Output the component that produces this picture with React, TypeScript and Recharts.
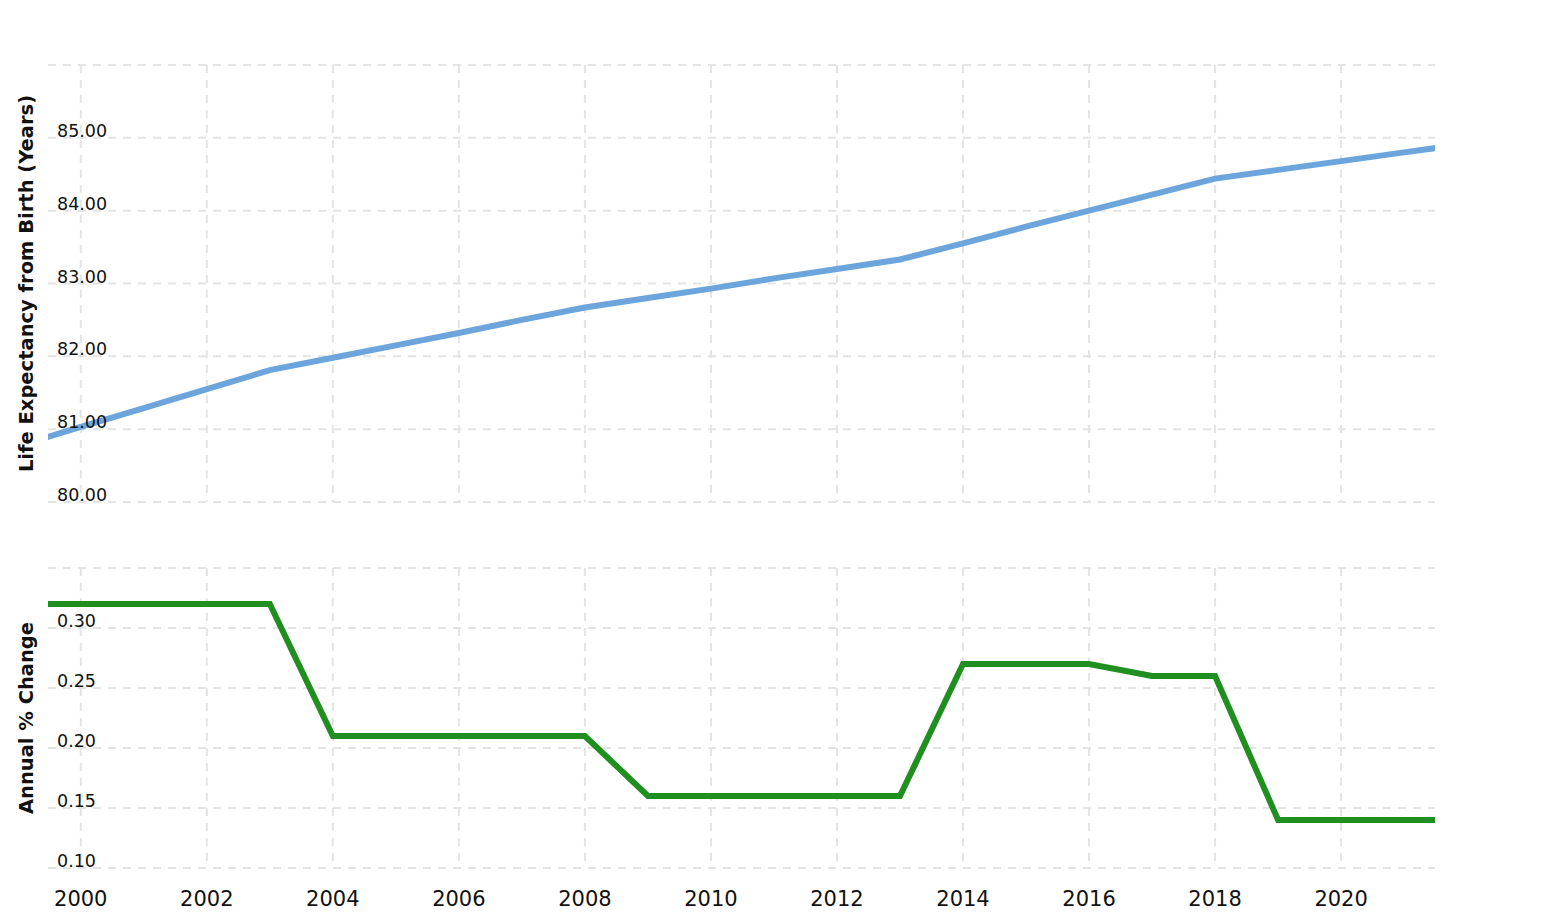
import React from 'react';
import { LineChart, Line, XAxis, YAxis, CartesianGrid } from 'recharts';

const years = [1999, 2000, 2001, 2002, 2003, 2004, 2005, 2006, 2007, 2008, 2009, 2010, 2011, 2012, 2013, 2014, 2015, 2016, 2017, 2018, 2019, 2020, 2021, 2022];
const lifeExpectancy = [80.77, 81.03, 81.29, 81.55, 81.81, 81.98, 82.15, 82.32, 82.5, 82.67, 82.8, 82.93, 83.07, 83.2, 83.33, 83.55, 83.78, 84.0, 84.22, 84.44, 84.56, 84.68, 84.8, 84.92];
const annualChange = [0.32, 0.32, 0.32, 0.32, 0.32, 0.21, 0.21, 0.21, 0.21, 0.21, 0.16, 0.16, 0.16, 0.16, 0.16, 0.27, 0.27, 0.27, 0.26, 0.26, 0.14, 0.14, 0.14, 0.14];

const yearTicks = [2000, 2002, 2004, 2006, 2008, 2010, 2012, 2014, 2016, 2018, 2020];
const lifeTicks = [80, 81, 82, 83, 84, 85, 86];
const changeTicks = [0.1, 0.15, 0.2, 0.25, 0.3, 0.35];

const xDomain = [1999.48, 2021.49];

const data = years.map((year, i) => ({
  year,
  life: lifeExpectancy[i],
  change: annualChange[i],
}));

const FONT = '"DejaVu Sans", Verdana, sans-serif';

// tick labels sit inside the plot, on top of their gridline; top tick has no label
const makeTick = (top: number) => (props: any) => {
  const { y, payload } = props;
  if (payload.value >= top) return null;
  return (
    <text x={57} y={y - 1} fill="#111" fontSize={17.5} fontFamily={FONT} textAnchor="start">
      {Number(payload.value).toFixed(2)}
    </text>
  );
};

const makeTitle = (title: string) => (props: any) => {
  const vb = props.viewBox || {};
  const cy = (vb.y || 0) + (vb.height || 0) / 2;
  return (
    <text
      x={33}
      y={cy}
      transform={`rotate(-90, 33, ${cy})`}
      textAnchor="middle"
      fill="#111"
      fontSize={19.5}
      fontWeight="bold"
      fontFamily={FONT}
    >
      {title}
    </text>
  );
};

// vertical gridlines only at the year ticks (no lines on the plot edges)
const yearLines = ({ xAxis, offset }: any) => {
  const s = xAxis && xAxis.scale;
  if (typeof s === 'function') return yearTicks.map((t) => s(t));
  if (s && typeof s.map === 'function') return yearTicks.map((t) => s.map(t));
  const [d0, d1] = xDomain;
  return yearTicks.map((t) => offset.left + ((t - d0) / (d1 - d0)) * offset.width);
};

export default function App() {
  return (
    <div style={{ position: 'absolute', left: 0, top: 0, width: 1564, height: 924, background: '#fff' }}>
      <div style={{ position: 'absolute', left: 0, top: 0 }}>
        <LineChart width={1564} height={520} data={data} margin={{ top: 65, right: 129, bottom: 18, left: 0 }}>
          <CartesianGrid stroke="#e4e4e4" strokeWidth={2} strokeDasharray="8 7" verticalCoordinatesGenerator={yearLines} />
          <XAxis dataKey="year" type="number" domain={xDomain} ticks={yearTicks} allowDataOverflow hide />
          <YAxis
            width={48}
            domain={[80, 86]}
            ticks={lifeTicks}
            allowDataOverflow
            axisLine={false}
            tickLine={false}
            tick={makeTick(86)}
            label={{ content: makeTitle('Life Expectancy from Birth (Years)') }}
          />
          <Line type="linear" dataKey="life" stroke="#6ca5dc" strokeWidth={6} dot={false} isAnimationActive={false} />
        </LineChart>
      </div>
      <div style={{ position: 'absolute', left: 0, top: 520 }}>
        <LineChart width={1564} height={404} data={data} margin={{ top: 48, right: 129, bottom: 0, left: 0 }}>
          <CartesianGrid stroke="#e4e4e4" strokeWidth={2} strokeDasharray="8 7" verticalCoordinatesGenerator={yearLines} />
          <XAxis
            dataKey="year"
            type="number"
            domain={xDomain}
            ticks={yearTicks}
            allowDataOverflow
            height={56}
            axisLine={false}
            tickLine={false}
            tickSize={0}
            tickMargin={23}
            tick={{ fill: '#111', fontSize: 21, fontFamily: FONT }}
          />
          <YAxis
            width={48}
            domain={[0.1, 0.35]}
            ticks={changeTicks}
            allowDataOverflow
            axisLine={false}
            tickLine={false}
            tick={makeTick(0.35)}
            label={{ content: makeTitle('Annual % Change') }}
          />
          <Line type="linear" dataKey="change" stroke="#1f8f1f" strokeWidth={6} dot={false} isAnimationActive={false} />
        </LineChart>
      </div>
    </div>
  );
}
